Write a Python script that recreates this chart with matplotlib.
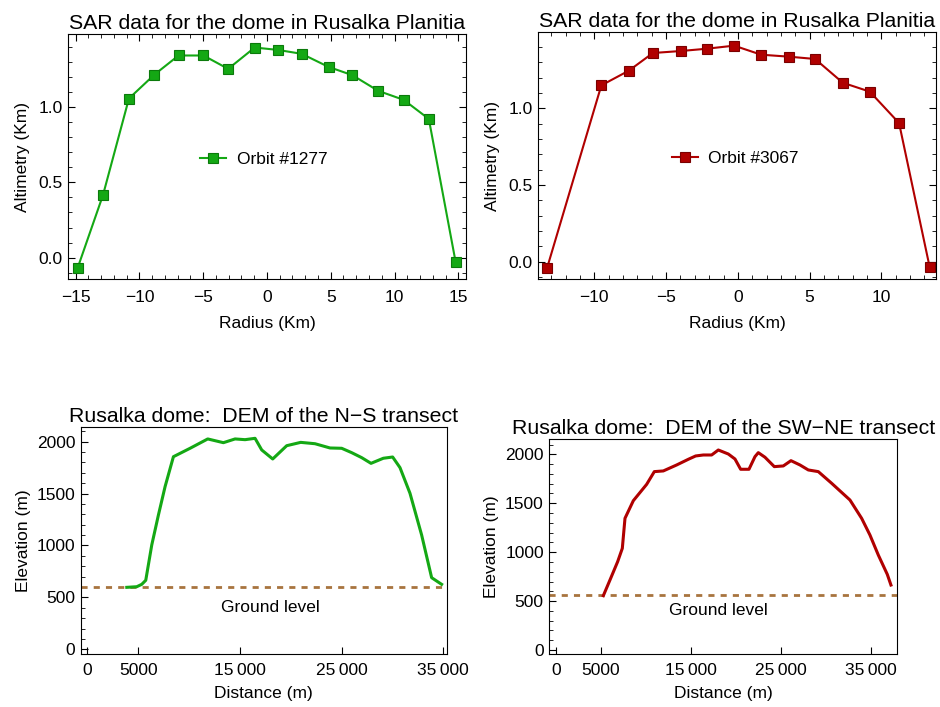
import matplotlib
matplotlib.use("Agg")
import matplotlib.pyplot as plt
from matplotlib.ticker import MultipleLocator, FixedLocator, FuncFormatter
import numpy as np

plt.rcParams['font.family'] = ['Liberation Sans', 'DejaVu Sans']

# SAR altimetry, orbit 1277 (radius km, altimetry km)
r_1277 = [-14.85, -12.85, -10.82, -8.82, -6.93, -4.98, -3.04, -0.96,
          0.86, 2.73, 4.83, 6.70, 8.72, 10.72, 12.69, 14.79]
alt_1277 = [-0.071, 0.417, 1.058, 1.217, 1.344, 1.344, 1.255, 1.397,
            1.381, 1.355, 1.268, 1.213, 1.109, 1.049, 0.922, -0.029]

# SAR altimetry, orbit 3067
r_3067 = [-13.29, -9.51, -7.59, -5.92, -3.97, -2.16, -0.26,
          1.62, 3.57, 5.38, 7.31, 9.19, 11.23, 13.36]
alt_3067 = [-0.041, 1.150, 1.246, 1.361, 1.374, 1.389, 1.409,
            1.350, 1.337, 1.322, 1.167, 1.109, 0.904, -0.035]

# DEM, N-S transect (distance m, elevation m)
dist_ns = [3870, 4852, 5344, 5737, 6328, 6984, 7639, 8459, 10098, 11836,
           13377, 14525, 15508, 16492, 17148, 18230, 19607, 20984, 22393,
           23869, 25016, 26000, 26984, 27902, 29115, 30033, 30754, 31738,
           32885, 33869, 34852]
elev_ns = [597, 603, 626, 665, 1005, 1294, 1567, 1855, 1936, 2026,
           1990, 2026, 2019, 2032, 1920, 1833, 1961, 1993, 1980,
           1939, 1936, 1894, 1846, 1791, 1840, 1852, 1750, 1503,
           1101, 690, 626]
ground_ns = 600

# DEM, SW-NE transect
dist_swne = [5259, 6000, 6852, 7370, 7667, 8593, 10074, 10926, 11926, 13407,
             14704, 15519, 16370, 17296, 18037, 19148, 19889, 20519, 21444,
             22111, 22481, 23222, 24259, 25259, 26111, 27111, 28037, 29148,
             30630, 32667, 33963, 34889, 35815, 36815, 37222]
elev_swne = [555, 716, 903, 1039, 1346, 1526, 1693, 1823, 1830, 1891,
             1949, 1983, 1993, 1993, 2044, 2003, 1952, 1847, 1847,
             1976, 2017, 1970, 1874, 1881, 1935, 1891, 1840, 1823,
             1704, 1533, 1346, 1175, 971, 773, 664]
ground_swne = 560

dist_ticks = [0, 5000, 15000, 25000, 35000]

green = '#14A814'
red = '#B00000'
brown = '#A8743F'

fig = plt.figure(figsize=(9.4, 7.07), dpi=100)

ax1 = fig.add_axes([0.0723, 0.605, 0.4234, 0.3465])
ax2 = fig.add_axes([0.5727, 0.605, 0.4230, 0.3493])
ax3 = fig.add_axes([0.0859, 0.0745, 0.3893, 0.3211])
ax4 = fig.add_axes([0.5844, 0.0745, 0.3702, 0.3041])

title_fs = 15.3
lab_fs = 12.5
tick_fs = 12.5


def sar_panel(ax, r, alt, color, edge, label, xlim, ylim, leg_xy):
    ax.plot(r, alt, color=color, lw=1.5, marker='s', ms=7,
            mfc=color, mec=edge, mew=0.8, label=label)
    ax.set_xlim(*xlim)
    ax.set_ylim(*ylim)
    ax.xaxis.set_major_locator(MultipleLocator(5))
    ax.xaxis.set_minor_locator(MultipleLocator(1))
    ax.yaxis.set_major_locator(MultipleLocator(0.5))
    ax.yaxis.set_minor_locator(MultipleLocator(0.1))
    ax.yaxis.set_major_formatter(FuncFormatter(lambda v, p: f"{v:.1f}"))
    ax.tick_params(which='both', direction='in', top=True, right=True,
                   labelsize=tick_fs)
    ax.tick_params(which='major', length=5, width=0.8)
    ax.tick_params(which='minor', length=3, width=0.6)
    ax.tick_params(axis='x', pad=8)
    ax.tick_params(axis='y', pad=4)
    ax.set_title("SAR data for the dome in Rusalka Planitia",
                 fontsize=title_fs, pad=4)
    ax.set_xlabel("Radius (Km)", fontsize=lab_fs, labelpad=8)
    ax.set_ylabel("Altimetry (Km)", fontsize=lab_fs, labelpad=6)
    ax.legend(loc='center left', bbox_to_anchor=leg_xy, frameon=False,
              fontsize=lab_fs, handlelength=1.5, handletextpad=0.6,
              borderpad=0, borderaxespad=0, numpoints=1)


def dist_fmt(v, p):
    v = int(round(v))
    if v >= 10000:
        return f"{v:,}".replace(",", "\u2009")
    return str(v)


def dem_panel(ax, d, e, ground, color, title, xlim, ylim):
    ax.axhline(ground, color=brown, lw=2, ls=(0, (2.2, 2.2)))
    ax.plot(d, e, color=color, lw=2.2)
    ax.text(18000, 400, "Ground level", ha='center', va='center',
            fontsize=lab_fs)
    ax.set_xlim(*xlim)
    ax.set_ylim(*ylim)
    ax.xaxis.set_major_locator(FixedLocator(dist_ticks))
    ax.xaxis.set_major_formatter(FuncFormatter(dist_fmt))
    ax.yaxis.set_major_locator(MultipleLocator(500))
    ax.yaxis.set_minor_locator(MultipleLocator(100))
    ax.tick_params(which='both', direction='in', labelsize=tick_fs)
    ax.tick_params(which='major', length=5, width=0.8)
    ax.tick_params(which='minor', length=3, width=0.6)
    ax.tick_params(axis='x', pad=6)
    ax.tick_params(axis='y', pad=4)
    ax.set_title(title, fontsize=title_fs, pad=4)
    ax.set_xlabel("Distance (m)", fontsize=lab_fs, labelpad=6)
    ax.set_ylabel("Elevation (m)", fontsize=lab_fs, labelpad=4)


sar_panel(ax1, r_1277, alt_1277, green, '#0B7A0B', "Orbit #1277",
          (-15.6, 15.6), (-0.144, 1.485), (0.332, 0.49))
sar_panel(ax2, r_3067, alt_3067, red, '#7A0000', "Orbit #3067",
          (-13.9, 13.8), (-0.115, 1.496), (0.335, 0.49))

dem_panel(ax3, dist_ns, elev_ns, ground_ns, green,
          "Rusalka dome:  DEM of the N\u2212S transect",
          (-660, 35350), (-48, 2138))
dem_panel(ax4, dist_swne, elev_swne, ground_swne, red,
          "Rusalka dome:  DEM of the SW\u2212NE transect",
          (-740, 37930), (-44, 2153))

fig.savefig("out.png", dpi=100)
